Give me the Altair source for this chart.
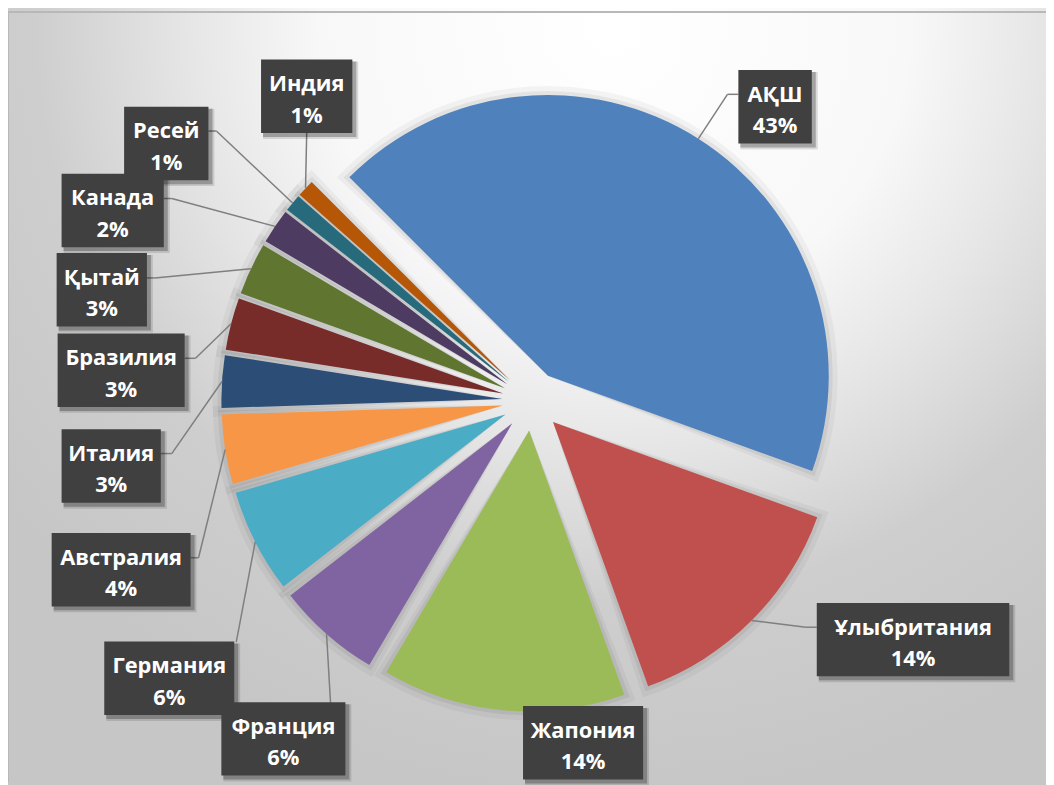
import math
import altair as alt
import pandas as pd

# ---------------- data ----------------
countries = ["АҚШ", "Ұлыбритания", "Жапония", "Франция", "Германия", "Австралия",
             "Италия", "Бразилия", "Қытай", "Канада", "Ресей", "Индия"]
shares = [43, 14, 14, 6, 6, 4, 3, 3, 3, 2, 1, 1]
colors = ["#4F81BD", "#C0504D", "#9BBB59", "#8064A2", "#4BACC6", "#F79646",
          "#2C4D75", "#772C2A", "#5F7530", "#4D3B62", "#276A7C", "#B65708"]

# ---------------- layout (pixels inside the view) ----------------
label_cx = [773, 912, 579.5, 277.5, 162.5, 114, 104, 114, 94.5, 105.5, 159.5, 301]
label_cy = [96.5, 633.5, 737.5, 733.5, 672.5, 563, 458.5, 362, 281, 201, 133.5, 86]
label_w = [74, 194, 121, 125, 131, 140, 100, 128, 91, 103, 85, 92]
anchor_x = [736, 815, None, 325, 230, 184, 154, 178, 140, 157, 202, 301]
anchor_y = [84, 621, None, 697, 636, 551, 446, 350, 269, 189, 121, 123]
elbow_dx = [-11, -11, 0, 0, 0, 8, 11, 11, 8, 8, 8, 0]

CX, CY = 528, 393          # pie centre
RADIUS = 283
EXPLODE = 30
START = -math.pi / 4       # first slice starts at -45 degrees
BOX_H = 74
W, H = 1046, 777

df = pd.DataFrame({
    "country": countries, "share": shares, "order": list(range(len(countries))),
    "lx": label_cx, "ly": label_cy, "lw": label_w,
    "ax": anchor_x, "ay": anchor_y, "edx": elbow_dx,
})


def base():
    c = alt.Chart(df)
    return (c.transform_joinaggregate(total="sum(share)")
             .transform_window(cum="sum(share)", sort=[alt.SortField("order")], frame=[None, 0])
             .transform_calculate(a0=f"{START} + 2*PI*(datum.cum - datum.share)/datum.total")
             .transform_calculate(a1=f"{START} + 2*PI*datum.cum/datum.total")
             .transform_calculate(mid="(datum.a0 + datum.a1)/2")
             .transform_calculate(cx=f"{CX} + {EXPLODE}*sin(datum.mid)",
                                  cy=f"{CY} - {EXPLODE}*cos(datum.mid)")
             .transform_calculate(ex=f"datum.cx + {RADIUS}*sin(datum.mid)",
                                  ey=f"datum.cy - {RADIUS}*cos(datum.mid)")
             .transform_calculate(pct="format(datum.share/datum.total, '.0%')",
                                  elx="datum.ax + datum.edx", ely="datum.ay",
                                  bx0="datum.lx - datum.lw/2", bx1="datum.lx + datum.lw/2",
                                  by0=f"datum.ly - {BOX_H}/2", by1=f"datum.ly + {BOX_H}/2"))


X = lambda f: alt.X(f"{f}:Q", scale=None, axis=None)
Y = lambda f: alt.Y(f"{f}:Q", scale=None, axis=None)
X2 = lambda f: alt.X2(f"{f}:Q")
Y2 = lambda f: alt.Y2(f"{f}:Q")

one = pd.DataFrame({"k": [0]})

bg = alt.Chart(one).mark_rect(
    fill=alt.Gradient(gradient="radial", x1=0.5, y1=0.5, r1=0, x2=0.5, y2=0.5, r2=0.5,
                      stops=[alt.GradientStop(offset=0, color="#ffffff"),
                             alt.GradientStop(offset=0.38, color="#f8f8f8"),
                             alt.GradientStop(offset=0.55, color="#e6e6e6"),
                             alt.GradientStop(offset=0.75, color="#cecece"),
                             alt.GradientStop(offset=1, color="#c6c6c6")])
).encode(x=alt.value(-168), x2=alt.value(1392), y=alt.value(-768), y2=alt.value(792))

frame_top = alt.Chart(one).mark_rule(color="#b8b8b8", strokeWidth=2).encode(
    x=alt.value(0), x2=alt.value(W), y=alt.value(1))
frame_left = alt.Chart(one).mark_rule(color="#b8b8b8", strokeWidth=2).encode(
    x=alt.value(0), y=alt.value(1), y2=alt.value(H))

theta = alt.Theta("a0:Q", scale=None, stack=None)
theta2 = alt.Theta2("a1:Q")

shadow1 = base().transform_calculate(s0="datum.a0 - 0.03", s1="datum.a1 + 0.03").mark_arc(
    outerRadius=RADIUS + 9, color="#000000", opacity=0.04).encode(
    x=X("cx"), y=Y("cy"), theta=alt.Theta("s0:Q", scale=None, stack=None), theta2=alt.Theta2("s1:Q"))
shadow2 = base().transform_calculate(s0="datum.a0 - 0.015", s1="datum.a1 + 0.015").mark_arc(
    outerRadius=RADIUS + 4, color="#000000", opacity=0.06).encode(
    x=X("cx"), y=Y("cy"), theta=alt.Theta("s0:Q", scale=None, stack=None), theta2=alt.Theta2("s1:Q"))

slices = base().mark_arc(outerRadius=RADIUS).encode(
    x=X("cx"), y=Y("cy"), theta=theta, theta2=theta2,
    color=alt.Color("country:N", scale=alt.Scale(domain=countries, range=colors), legend=None),
    order=alt.Order("order:Q"),
)

lines = base().transform_filter("isValid(datum.ax)")
seg1 = lines.mark_rule(color="#7f7f7f", strokeWidth=1.5).encode(
    x=X("ex"), y=Y("ey"), x2=X2("elx"), y2=Y2("ely"))
seg2 = lines.mark_rule(color="#7f7f7f", strokeWidth=1.5).encode(
    x=X("elx"), y=Y("ely"), x2=X2("ax"), y2=Y2("ay"))

box_shadow_a = base().transform_calculate(
    sx0="datum.bx0 + 2", sx1="datum.bx1 + 6", sy0="datum.by0 + 2", sy1="datum.by1 + 6").mark_rect(
    color="#000000", opacity=0.12).encode(x=X("sx0"), x2=X2("sx1"), y=Y("sy0"), y2=Y2("sy1"))
box_shadow_b = base().transform_calculate(
    sx0="datum.bx0 + 2", sx1="datum.bx1 + 4", sy0="datum.by0 + 2", sy1="datum.by1 + 4").mark_rect(
    color="#000000", opacity=0.25).encode(x=X("sx0"), x2=X2("sx1"), y=Y("sy0"), y2=Y2("sy1"))
boxes = base().mark_rect(color="#404040").encode(
    x=X("bx0"), x2=X2("bx1"), y=Y("by0"), y2=Y2("by1"))

name_text = base().transform_calculate(ty="datum.ly - 5").mark_text(
    font="Open Sans", fontSize=22, fontWeight="bold", color="#ffffff",
    align="center", baseline="alphabetic").encode(x=X("lx"), y=Y("ty"), text="country:N")
pct_text = base().transform_calculate(ty="datum.ly + 26.5").mark_text(
    font="Open Sans", fontSize=22, fontWeight="bold", color="#ffffff",
    align="center", baseline="alphabetic").encode(x=X("lx"), y=Y("ty"), text="pct:N")

chart = alt.layer(
    bg, frame_top, frame_left, shadow1, shadow2, slices, seg1, seg2,
    box_shadow_a, box_shadow_b, boxes, name_text, pct_text,
).properties(
    width=W, height=H, padding=0, autosize=alt.AutoSizeParams(type="none"),
).configure_view(stroke=None).configure(background="#ffffff")

chart.save("out.html", embed_options={"renderer": "svg", "actions": False})
